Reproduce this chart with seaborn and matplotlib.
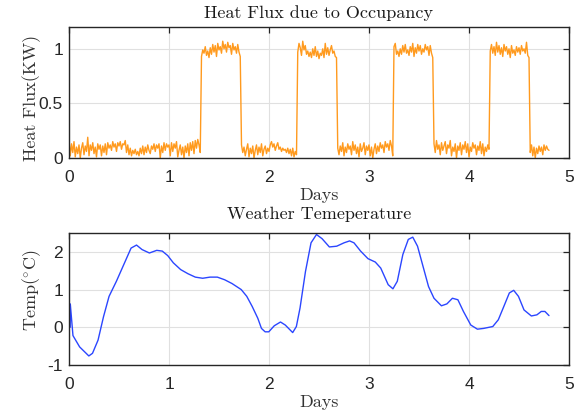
import numpy as np
import pandas as pd
import matplotlib
matplotlib.use("Agg")
import matplotlib.pyplot as plt
import seaborn as sns

# ---------------- data ----------------
dt_days = 0.0125  # sampling step of the occupancy heat flux (days)

flux_low1 = [0.16,0.02,0.13,0.05,0.15,0.01,0.10,0.04,0.12,0.00,
             0.09,0.14,0.03,0.11,0.06,0.19,0.02,0.12,0.07,0.14,
             0.04,0.10,0.01,0.13,0.08,0.12,0.02,0.11,0.05,0.13,
             0.03,0.14,0.09,0.12,0.07,0.15,0.10,0.13,0.06,0.14,
             0.11,0.15,0.08,0.13,0.12,0.16,0.05,0.12,0.03,0.09,
             0.02,0.07,0.04,0.08,0.03,0.06,0.02,0.09,0.04,0.11,
             0.03,0.10,0.05,0.12,0.07,0.04,0.11,0.08,0.13,0.06,
             0.12,0.09,0.13,0.00,0.11,0.05,0.14,0.07,0.13,0.10,
             0.12,0.02,0.14,0.06,0.13,0.09,0.15,0.01,0.07,0.12,
             0.03,0.10,0.00,0.11,0.05,0.13,0.02,0.14,0.07,0.15,
             0.04,0.16,0.09,0.17,0.12,0.05]
flux_high1 = [0.93,0.99,0.96,1.02,0.94,0.98,0.92,1.01,0.95,1.04,
              0.97,1.03,0.93,1.05,0.99,1.02,0.96,1.07,1.00,1.04,
              0.97,1.06,1.01,1.03,0.95,1.05,0.99,1.02,0.96,1.04,0.97,0.93]
flux_low2 = [0.12,0.05,0.10,0.02,0.08,0.13,0.01,0.09,0.04,0.11,
             0.00,0.07,0.12,0.03,0.10,0.05,0.13,0.02,0.08,0.11,
             0.04,0.09,0.06,0.12,0.15,0.10,0.13,0.07,0.11,0.14,
             0.08,0.10,0.06,0.09,0.07,0.08,0.05,0.09,0.04,0.08,
             0.02,0.09,0.01,0.06,0.03]
flux_high2 = [0.97,1.05,1.01,0.94,1.07,0.99,1.03,0.95,0.98,0.93,
              0.97,0.92,1.00,0.94,1.02,0.93,0.98,0.91,0.96,0.94,
              1.00,0.92,1.05,0.95,1.01,0.94,0.99,1.03,0.96,0.98,0.93,0.92]
flux_low3 = [0.09,0.03,0.11,0.06,0.14,0.02,0.10,0.05,0.13,0.08,
             0.11,0.03,0.15,0.07,0.12,0.04,0.10,0.01,0.13,0.06,
             0.09,0.14,0.03,0.11,0.07,0.12,0.02,0.10,0.00,0.08,
             0.13,0.04,0.11,0.06,0.14,0.09,0.12,0.05,0.15,0.10,
             0.13,0.07,0.16,0.11,0.02]
flux_high3 = [1.02,1.05,0.95,0.98,0.93,1.00,0.95,1.03,0.97,1.04,
              0.96,0.99,0.94,1.02,0.97,1.05,0.93,1.01,0.96,1.04,
              0.98,1.03,0.95,1.00,0.97,1.04,0.99,1.02,0.94,1.03,0.96,0.92]
flux_low4 = [0.13,0.05,0.16,0.08,0.12,0.03,0.14,0.07,0.11,0.15,
             0.04,0.12,0.09,0.16,0.02,0.10,0.06,0.13,0.00,0.11,
             0.07,0.14,0.03,0.12,0.08,0.15,0.05,0.13,0.01,0.10,
             0.06,0.14,0.09,0.12,0.03,0.11,0.07,0.15,0.04,0.13,
             0.02,0.10,0.06,0.12,0.08]
flux_high4 = [0.98,1.04,0.96,1.02,0.94,1.06,0.97,1.03,0.95,1.01,
              0.93,1.04,0.98,1.02,0.95,1.00,0.92,1.03,0.96,0.99,
              0.94,1.02,0.97,1.01,0.95,1.03,0.98,1.00,0.96,1.06,0.94,0.92]
flux_low5 = [0.05,0.12,0.02,0.10,0.00,0.09,0.04,0.11,0.06,0.10,
             0.03,0.12,0.07,0.11,0.08,0.07]

temp_days = [0.012, 0.013, 0.04, 0.107, 0.2, 0.237, 0.293, 0.348, 0.404, 0.478,
             0.552, 0.626, 0.681, 0.737, 0.811, 0.885, 0.941, 0.996, 1.052, 1.126,
             1.2, 1.274, 1.348, 1.422, 1.496, 1.57, 1.644, 1.737, 1.793, 1.848,
             1.904, 1.941, 1.978, 2.015, 2.07, 2.133, 2.181, 2.256, 2.293, 2.33,
             2.385, 2.441, 2.496, 2.552, 2.626, 2.7, 2.774, 2.83, 2.874, 2.941,
             3.015, 3.089, 3.144, 3.219, 3.267, 3.311, 3.367, 3.422, 3.467, 3.515,
             3.57, 3.626, 3.681, 3.756, 3.811, 3.867, 3.922, 3.978, 4.052, 4.119,
             4.181, 4.274, 4.33, 4.385, 4.441, 4.485, 4.533, 4.589, 4.663, 4.719,
             4.763, 4.8, 4.841]
temp_vals = [0.0, 0.62, -0.22, -0.52, -0.76, -0.69, -0.34, 0.28, 0.82, 1.22,
             1.66, 2.10, 2.18, 2.06, 1.97, 2.04, 2.02, 1.90, 1.71, 1.53,
             1.42, 1.33, 1.30, 1.33, 1.33, 1.26, 1.16, 1.00, 0.82, 0.55,
             0.24, -0.03, -0.12, -0.12, 0.04, 0.14, 0.06, -0.14, 0.02, 0.51,
             1.48, 2.24, 2.46, 2.35, 2.13, 2.15, 2.24, 2.29, 2.24, 2.02,
             1.82, 1.73, 1.57, 1.13, 1.02, 1.22, 1.93, 2.33, 2.39, 2.15,
             1.62, 1.08, 0.77, 0.57, 0.62, 0.77, 0.73, 0.42, 0.06, -0.05,
             -0.03, 0.02, 0.20, 0.55, 0.91, 0.98, 0.82, 0.46, 0.30, 0.33,
             0.42, 0.42, 0.31]

x_ticks = [0, 1, 2, 3, 4, 5]
x_ticklabels = ["0", "1", "2", "3", "4", "5"]
flux_yticks = [0, 0.5, 1]
flux_yticklabels = ["0", "0.5", "1"]
temp_yticks = [-1, 0, 1, 2]
temp_yticklabels = ["-1", "0", "1", "2"]

# ---------------- build frames ----------------
flux_vals = (flux_low1 + flux_high1 + flux_low2 + flux_high2 + flux_low3 +
             flux_high3 + flux_low4 + flux_high4 + flux_low5)
flux_df = pd.DataFrame({"Days": np.arange(len(flux_vals)) * dt_days,
                        "Flux": flux_vals})
temp_scale = 4.8 / temp_days[-1]
temp_df = pd.DataFrame({"Days": np.array(temp_days) * temp_scale,
                        "Temp": temp_vals})

# ---------------- style ----------------
sns.set_theme(style="white")
plt.rcParams["mathtext.fontset"] = "cm"
plt.rcParams["axes.unicode_minus"] = False
tick_font = "Liberation Sans"
serif = ["cmr10", "DejaVu Serif"]
dark = "#262626"
label_c = "#333333"
grid_c = "#e0e0e0"
FS_TICK = 12.5
FS_TXT = 13

fig = plt.figure(figsize=(5.77, 4.15), dpi=100)
fig.patch.set_facecolor("white")
ax1 = fig.add_axes([69/577, 1-158/415, 500/577, 131/415])
ax2 = fig.add_axes([69/577, 1-365/415, 500/577, 132/415])

sns.lineplot(data=flux_df, x="Days", y="Flux", ax=ax1, color="#FF9A1E",
             linewidth=1.0, estimator=None)
sns.lineplot(data=temp_df, x="Days", y="Temp", ax=ax2, color="#2B46FF",
             linewidth=1.0, estimator=None, sort=False)

def style_axes(ax, yticks, ylabels, ylim, title, ylabel, title_pad,
               ax_h_px, ylab_y):
    ax.set_xlim(0, 5)
    ax.set_ylim(*ylim)
    ax.set_xticks(x_ticks)
    ax.set_xticklabels(x_ticklabels, fontfamily=tick_font, fontsize=FS_TICK, color=dark)
    ax.set_yticks(yticks)
    ax.set_yticklabels(ylabels, fontfamily=tick_font, fontsize=FS_TICK, color=dark)
    ax.grid(True, color=grid_c, linewidth=0.8)
    ax.set_axisbelow(True)
    for s in ax.spines.values():
        s.set_visible(True)
        s.set_color(dark)
        s.set_linewidth(1.0)
    ax.tick_params(axis="x", direction="in", top=True, length=4,
                   width=0.9, color=dark, pad=8.3)
    ax.tick_params(axis="y", direction="in", right=True, length=4,
                   width=0.9, color=dark, pad=4.3)
    ax.set_title(title, fontfamily=serif, fontsize=FS_TXT, color="#1a1a1a",
                 pad=title_pad)
    ax.set_xlabel("Days", fontfamily=serif, fontsize=FS_TXT, color=label_c)
    ax.xaxis.label.set_va("baseline")
    ax.xaxis.set_label_coords(0.5, -42 / ax_h_px)
    ax.set_ylabel(ylabel, fontfamily=serif, fontsize=FS_TXT, color=label_c)
    ax.yaxis.label.set_va("center")
    ax.yaxis.set_label_coords(-37.5 / 500, ylab_y)

style_axes(ax1, flux_yticks, flux_yticklabels, (0, 1.2),
           "Heat Flux due to Occupancy", "Heat Flux(KW)", 6.5, 131, 0.46)
style_axes(ax2, temp_yticks, temp_yticklabels, (-1, 2.5),
           "Weather Temeperature", r"$\mathrm{Temp}(^{\circ}\mathrm{C})$", 10.0, 132, 0.57)

fig.savefig("out.png", dpi=100, facecolor="white")
